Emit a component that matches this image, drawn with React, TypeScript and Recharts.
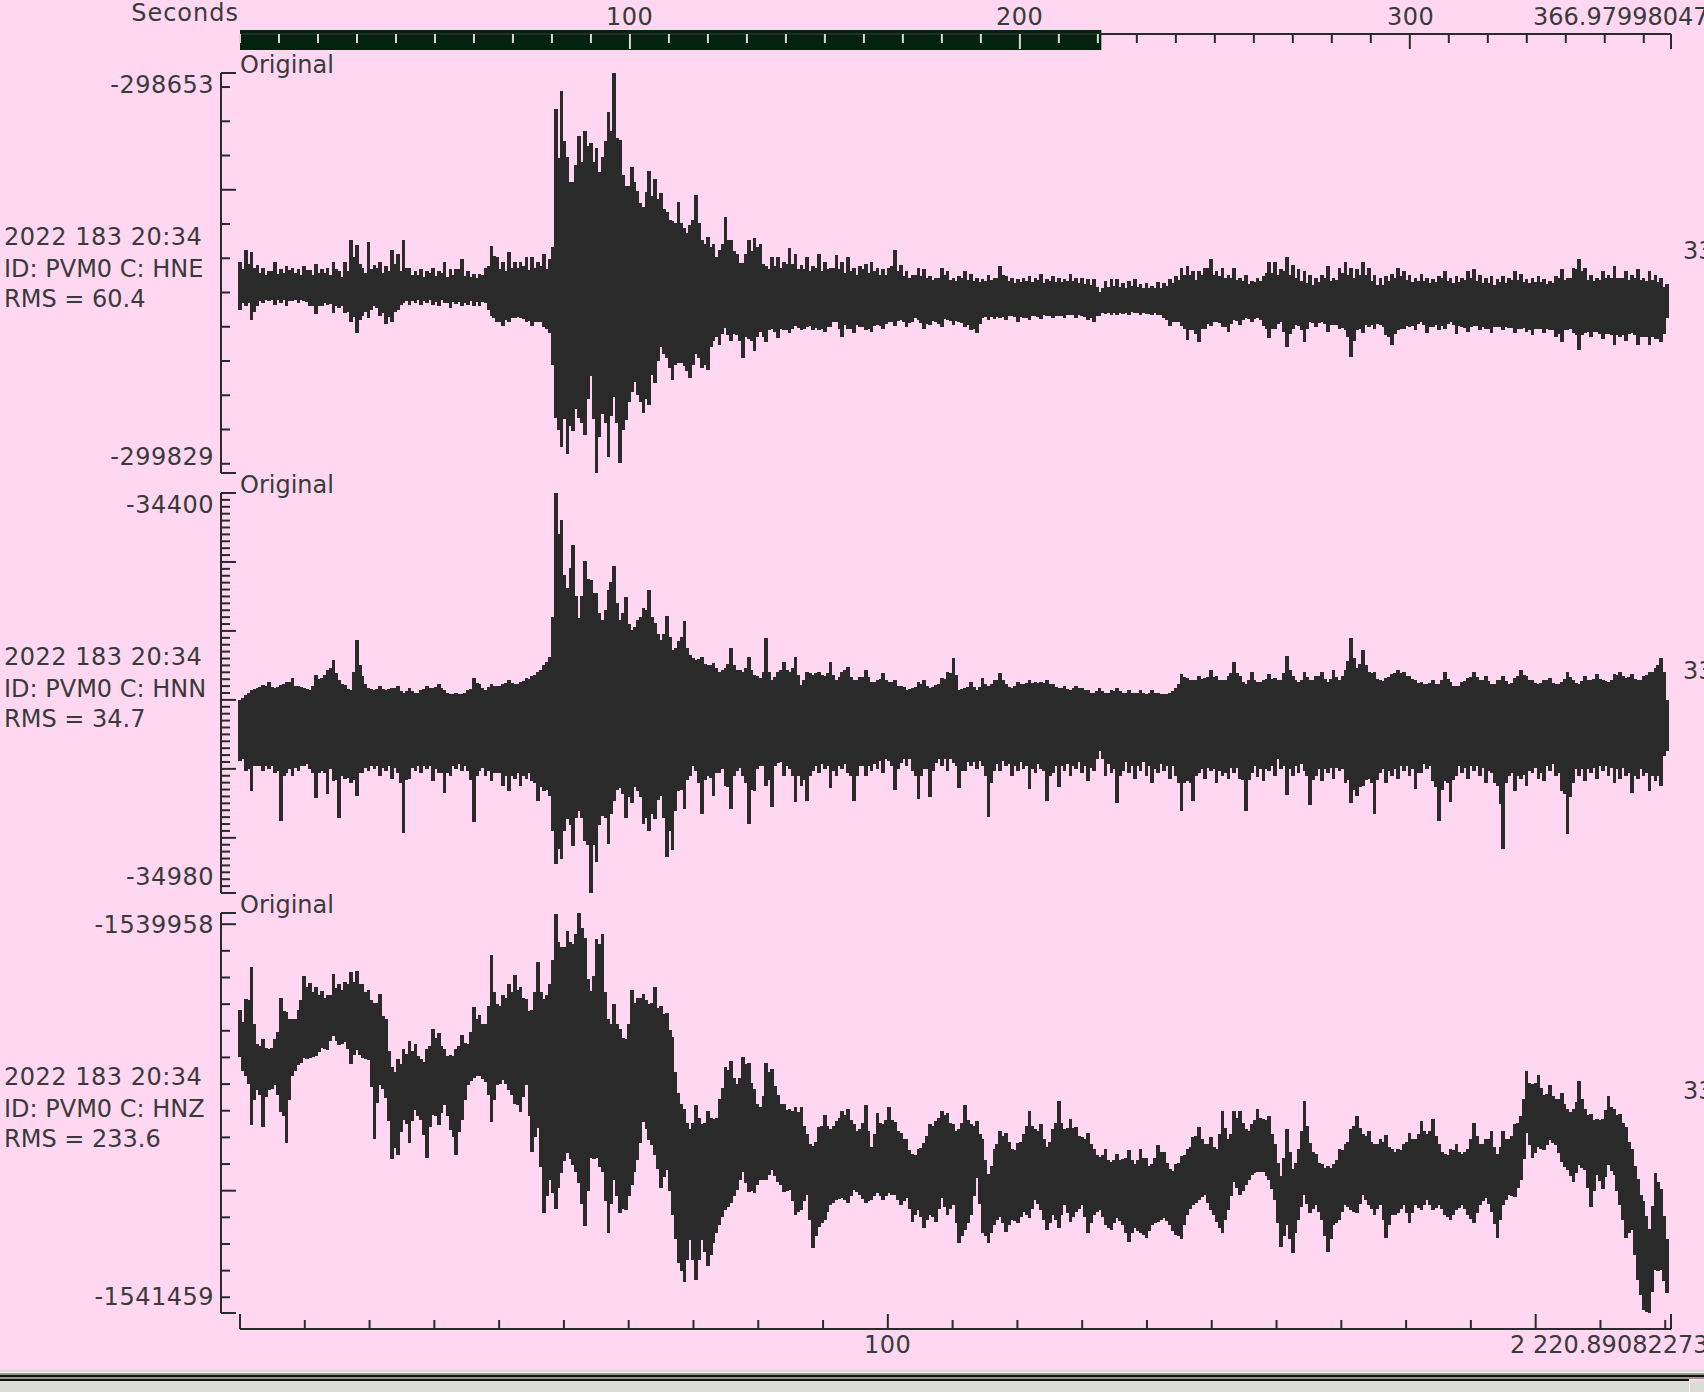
import { Bar, ComposedChart, ReferenceArea, ReferenceLine, XAxis, YAxis } from "recharts";

// seismogram columns: main list every 1.5 s, "Mid" lists fill the column in between
const STEP = 1.5;
const DURATION = 366.98;
const ZOOM_END = 220.89;
const LEAD = -4.87; // room between y axis and first sample
const INK = "#2a2a2a";
const PINK = "#ffd7f1";
const GREEN = "#02240e";
const PALE = "#d8d8d0";

const hneTop = -298659;
const hneBottom = -299827;
const hnnTop = -34400;
const hnnBottom = -34980;
const hnzTop = -1539958;
const hnzBottom = -1541459;

// all series values: counts below the trace top
const hneHigh = [
  552,517,523,561,570,581,552,575,564,570,
  575,564,578,558,575,570,552,581,552,488,
  505,570,494,561,552,564,517,531,488,570,
  581,575,581,570,581,552,575,575,546,581,
  587,587,570,508,540,552,523,552,552,540,
  540,552,531,546,108,55,248,321,184,172,
  207,219,248,114,0,196,330,277,347,394,
  289,312,353,406,435,377,453,444,359,488,
  479,502,517,423,488,531,555,488,482,502,
  566,540,540,552,511,531,561,540,564,529,
  552,570,534,552,540,570,564,558,552,570,
  575,570,517,561,581,590,570,575,593,599,
  570,581,599,593,581,587,599,604,590,599,
  564,593,599,604,599,593,599,587,604,593,
  599,604,587,599,599,604,604,640,610,604,
  604,616,610,604,619,616,622,613,616,604,
  593,570,564,581,581,570,546,581,570,590,
  570,599,590,610,599,593,552,552,575,540,
  561,575,581,590,599,590,566,599,570,552,
  570,575,552,570,590,599,593,587,570,581,
  590,599,587,599,604,593,581,599,593,599,
  581,575,590,599,593,604,593,599,581,587,
  604,599,593,602,610,593,575,599,570,546,
  570,590,599,581,590,566,599,581,590,575,
  599,581,590,599,619,
];
const hneLow = [
  692,680,721,680,669,663,675,669,680,663,
  669,663,680,701,680,675,698,686,698,727,
  759,709,715,680,709,730,727,692,669,675,
  669,675,669,675,680,669,686,672,680,675,
  680,680,669,709,727,736,727,715,715,727,
  736,727,739,759,1007,1092,1110,1043,1007,1057,
  882,1168,993,1121,946,1136,1013,931,940,990,
  969,905,800,832,896,844,853,888,818,861,
  867,780,794,742,780,765,832,774,809,756,
  785,745,771,750,759,736,750,739,750,748,
  756,739,727,768,745,759,739,750,756,733,
  745,727,736,721,739,727,721,745,733,727,
  739,721,733,727,739,750,759,715,721,718,
  715,721,709,727,715,721,709,718,709,715,
  709,715,706,715,709,721,727,709,701,706,
  704,701,704,698,704,701,706,704,715,736,
  727,736,777,750,785,745,736,727,739,756,
  721,733,715,727,715,736,771,745,727,800,
  745,736,785,727,739,727,756,733,745,750,
  829,750,759,739,745,733,765,794,750,745,
  739,750,727,759,739,750,745,727,762,739,
  756,736,750,745,759,739,750,742,759,745,
  756,765,745,759,750,768,785,750,759,806,
  759,768,756,774,762,794,768,780,759,794,
  768,794,774,785,715,
];
const hneMidHigh = [
  575,560,570,585,590,580,588,585,578,584,
  590,576,592,585,586,592,575,596,580,540,
  560,584,575,570,585,580,560,580,570,590,
  592,596,586,594,585,596,592,575,594,598,
  600,590,565,535,575,580,572,570,566,576,
  572,565,575,510,250,200,320,270,260,215,
  260,290,200,170,190,300,330,320,380,350,
  360,370,400,430,440,440,470,430,440,500,
  510,540,500,490,520,555,530,520,510,560,
  575,565,570,560,560,575,575,580,570,580,
  575,570,575,585,580,590,575,585,580,590,
  590,565,580,595,600,590,595,600,605,600,
  590,605,610,600,605,608,612,610,605,600,
  590,610,615,612,610,612,605,615,610,612,
  612,610,608,614,618,620,625,630,626,622,
  625,628,622,625,630,628,630,628,624,615,
  605,590,590,605,590,570,590,595,600,600,
  605,610,618,612,610,585,585,590,580,590,
  600,610,615,620,612,600,610,605,585,590,
  600,590,590,610,620,620,610,600,595,605,
  612,610,610,615,612,600,610,615,612,605,
  600,610,615,615,620,612,615,605,605,612,
  615,612,612,618,615,600,605,600,575,580,
  605,610,605,600,600,600,600,605,600,605,
  610,605,612,625,
];
const hneMidLow = [
  670,670,695,665,660,660,662,662,665,660,
  660,668,680,680,670,672,680,680,695,710,
  720,695,690,685,700,710,695,675,665,665,
  662,664,662,668,662,670,668,668,670,665,
  668,666,690,715,725,720,715,710,718,722,
  725,725,745,850,1040,1010,1030,980,1020,950,
  1010,1060,1020,1000,1020,1040,960,900,960,950,
  880,840,820,860,850,845,870,850,830,850,
  800,770,760,765,760,780,770,780,770,770,
  750,755,745,750,745,742,745,738,742,745,
  740,725,745,735,745,735,740,745,738,738,
  730,725,722,725,728,715,728,730,722,730,
  718,722,722,728,735,745,730,712,712,712,
  712,708,712,712,714,708,710,706,708,708,
  708,704,706,706,710,715,708,700,700,700,
  698,700,696,700,698,702,700,704,720,725,
  725,745,750,760,745,730,725,728,740,730,
  722,720,716,716,720,745,745,730,755,760,
  735,750,745,728,728,730,735,735,742,770,
  780,745,735,735,730,740,770,760,745,738,
  738,730,735,740,735,738,732,735,738,742,
  740,738,740,745,740,740,740,742,745,742,
  750,745,745,745,750,760,750,745,765,765,
  755,755,760,760,765,765,765,760,765,770,
  770,770,775,760,
];

const hnnHigh = [
  301,294,286,283,279,275,283,279,275,269,
  280,283,286,264,269,257,243,272,279,286,
  214,266,283,286,280,286,283,280,290,283,
  290,286,280,283,277,286,292,290,292,286,
  269,277,286,277,280,277,272,277,275,269,
  266,260,250,238,0,40,138,76,182,100,
  127,145,185,141,106,185,151,199,185,167,
  141,189,214,179,228,216,187,235,243,238,
  250,247,260,254,225,257,260,238,264,269,
  211,272,260,246,260,238,279,260,264,260,
  266,246,272,260,253,272,268,257,275,272,
  261,275,272,280,286,283,275,272,283,279,
  269,260,240,286,283,275,286,269,280,272,
  261,277,283,275,277,272,275,275,272,277,
  283,280,286,280,283,286,290,283,290,286,
  283,290,286,290,286,292,286,290,292,290,
  283,263,269,272,266,269,257,266,272,266,
  246,266,277,260,275,272,263,269,272,237,
  266,275,260,272,266,260,275,257,272,257,
  211,254,228,260,260,272,269,263,257,260,
  266,272,275,277,272,277,260,275,280,275,
  269,260,272,266,277,272,266,277,269,257,
  266,272,277,272,269,277,275,260,272,277,
  266,272,263,272,275,263,260,269,263,272,
  266,260,254,240,301,
];
const hnnLow = [
  388,402,431,395,402,399,405,475,405,410,
  402,395,399,441,402,435,417,470,414,420,
  438,405,402,399,410,402,414,405,492,414,
  402,405,399,417,405,434,410,399,402,402,
  477,402,410,417,405,424,431,414,424,414,
  417,446,431,438,537,530,472,511,460,504,
  580,535,467,508,446,427,470,449,431,479,
  489,472,438,527,517,431,457,410,402,465,
  410,438,405,424,457,402,410,479,431,395,
  424,454,391,410,399,447,424,446,402,405,
  399,427,410,399,405,446,395,410,402,399,
  405,388,430,391,395,402,443,399,440,391,
  395,402,391,427,402,395,399,395,469,402,
  402,395,410,402,399,428,405,399,446,405,
  426,402,410,399,405,417,402,373,410,405,
  449,402,405,414,402,410,420,405,402,414,
  410,460,417,446,405,414,402,420,410,414,
  405,414,460,405,411,417,402,410,399,437,
  410,405,402,451,410,417,405,414,402,420,
  449,438,424,414,465,405,420,410,414,402,
  410,428,405,399,417,475,417,447,410,405,
  414,402,410,420,405,424,515,410,431,414,
  424,405,414,417,402,410,431,494,420,410,
  417,405,414,402,410,420,414,410,434,414,
  410,431,417,424,373,
];
const hnnMidHigh = [
  298,290,285,282,280,282,282,278,275,280,
  282,285,280,270,265,255,262,278,285,260,
  250,278,285,285,285,285,284,288,288,288,
  290,285,283,282,284,290,292,292,290,285,
  276,284,282,280,280,276,276,278,274,270,
  264,258,246,180,60,120,110,150,150,125,
  145,175,170,130,160,175,190,195,180,170,
  180,205,205,210,225,210,225,240,242,248,
  250,255,258,248,250,258,255,258,266,260,
  260,268,258,258,255,265,272,262,262,264,
  262,265,268,258,268,272,268,268,275,270,
  272,275,280,282,285,282,278,280,282,278,
  270,262,265,285,282,282,282,278,278,272,
  272,282,280,278,276,276,276,276,278,282,
  284,285,284,284,286,290,288,288,290,288,
  288,290,290,290,290,290,290,292,292,288,
  278,268,272,272,270,268,268,272,272,262,
  262,275,272,272,275,270,270,272,262,258,
  272,272,268,272,266,270,270,268,266,245,
  240,248,250,262,270,274,268,262,262,266,
  270,276,278,276,278,272,270,280,280,274,
  268,268,272,274,278,272,274,276,266,264,
  272,276,276,272,276,278,270,268,276,274,
  272,270,270,274,272,264,266,268,270,272,
  265,260,250,260,
];
const hnnMidLow = [
  385,400,395,395,395,395,402,410,400,398,
  395,392,405,405,405,400,415,410,412,415,
  405,398,395,395,398,395,398,420,415,398,
  395,395,395,400,405,405,395,392,395,415,
  410,398,402,405,405,410,410,405,410,405,
  420,425,430,490,515,490,480,470,470,510,
  510,480,470,465,430,435,440,425,440,470,
  465,445,470,490,460,430,415,395,420,415,
  412,405,400,425,410,398,420,430,400,395,
  415,395,390,395,410,410,415,410,395,392,
  395,402,395,392,410,410,395,395,392,388,
  385,395,400,385,385,410,410,400,402,385,
  385,385,395,402,390,390,388,410,420,392,
  388,392,395,390,395,400,392,402,410,395,
  395,392,395,390,395,398,385,385,392,400,
  410,390,395,395,390,395,400,392,395,395,
  420,420,420,410,400,398,400,402,405,398,
  398,415,415,395,400,400,395,385,395,400,
  395,392,410,415,400,400,398,398,400,415,
  430,425,415,420,415,400,402,400,395,395,
  400,405,392,395,425,430,420,415,395,398,
  395,395,398,402,420,450,420,405,410,408,
  402,398,405,395,392,405,435,440,400,400,
  400,398,395,395,398,400,398,405,410,400,
  405,410,410,380,
];

const hnzHigh = [
  364,326,206,495,476,514,476,319,375,401,
  364,240,266,278,296,308,229,270,259,225,
  221,270,289,338,304,401,581,551,514,484,
  495,551,514,439,454,514,533,514,458,495,
  356,383,420,158,345,308,270,233,278,326,
  364,184,326,270,4,131,71,120,0,94,
  296,101,79,401,345,439,476,289,319,304,
  345,281,349,379,469,679,739,814,724,795,
  746,776,701,581,559,645,544,566,664,731,
  566,589,683,720,739,731,731,833,878,806,
  761,814,784,746,739,795,814,724,881,754,
  795,731,788,829,851,908,889,866,795,784,
  746,754,795,814,724,795,784,851,983,889,
  821,829,889,866,833,746,814,795,881,814,
  709,814,776,806,844,829,889,919,889,938,
  908,926,893,945,889,923,945,874,900,964,
  945,915,889,844,806,870,844,889,746,851,
  746,746,814,795,739,776,765,870,990,814,
  964,889,709,866,908,945,953,945,889,870,
  814,765,833,821,870,851,836,889,889,870,
  829,851,784,833,776,870,908,889,870,908,
  889,791,870,851,821,908,821,851,795,765,
  596,645,611,683,649,701,679,739,739,634,
  739,758,776,776,690,739,758,806,889,1001,
  1084,1189,979,1039,1226,
];
const hnzLow = [
  540,608,795,664,803,664,645,746,863,608,
  570,544,544,533,506,514,458,495,484,563,
  514,544,551,848,645,694,923,908,776,863,
  739,776,919,758,795,720,814,908,776,645,
  619,608,634,784,645,626,664,713,746,645,
  896,806,1125,1001,1110,975,900,945,1013,1174,
  919,919,971,1200,1001,1125,1114,1020,926,784,
  851,908,1031,964,1133,1313,1384,1226,1376,1226,
  1324,1238,1170,1114,1088,1039,971,1046,1050,1001,
  1001,964,1009,1046,1039,1133,1114,1058,1256,1178,
  1151,1095,1076,1069,1088,1039,1058,1088,1076,1050,
  1076,1050,1058,1095,1069,1159,1114,1181,1133,1159,
  1069,1133,1095,1238,1189,1133,994,1200,1238,1170,
  1140,1196,1151,1163,1121,1144,1076,1114,1189,1133,
  1181,1095,1159,1121,1095,1200,1133,1114,1170,1189,
  1144,1170,1234,1181,1200,1219,1170,1159,1144,1170,
  1208,1223,1133,1095,1076,1058,1114,1159,1200,1114,
  1009,1058,1020,983,971,971,1001,1076,1253,1170,
  1275,1151,1058,1125,1095,1151,1271,1170,1151,1095,
  1114,1125,1058,1095,1133,1095,1219,1133,1125,1095,
  1163,1095,1114,1076,1114,1095,1133,1151,1114,1095,
  1133,1163,1095,1069,1121,1219,1095,1058,1065,1001,
  825,919,878,889,851,870,934,964,1009,945,
  964,1103,983,1035,945,983,1095,1219,1189,1376,
  1489,1500,1339,1339,1425,
];
const hnzMidHigh = [
  410,330,420,500,510,510,450,370,400,400,
  330,280,300,310,320,310,285,290,270,260,
  270,300,330,340,390,520,600,570,530,520,
  540,560,500,470,500,540,540,500,490,450,
  400,420,350,300,350,320,300,290,320,370,
  300,300,310,180,110,130,110,80,60,250,
  240,120,300,420,420,470,420,340,320,330,
  340,360,380,440,600,720,790,790,770,790,
  770,770,660,590,620,620,570,640,720,690,
  600,650,720,740,745,750,800,870,860,800,
  800,800,770,760,780,820,790,820,830,790,
  780,780,820,850,890,910,885,840,800,770,
  760,790,820,790,780,800,830,930,950,870,
  840,860,890,860,800,800,820,850,860,790,
  790,810,810,840,850,870,910,910,930,930,
  930,920,930,930,920,950,920,900,940,970,
  940,910,880,840,850,870,880,830,810,830,
  770,790,820,780,770,780,830,940,920,900,
  940,820,800,900,940,960,960,930,890,860,
  800,810,840,860,870,860,880,900,890,860,
  850,830,820,820,840,900,910,890,900,900,
  850,840,870,850,880,880,850,840,790,700,
  640,640,660,680,690,700,720,750,710,700,
  760,780,780,740,730,760,790,860,950,1060,
  1140,1100,1010,1140,
];
const hnzMidLow = [
  590,640,700,680,690,660,680,760,700,590,
  560,545,540,520,510,480,480,490,510,530,
  530,545,650,710,660,780,880,820,790,780,
  760,830,800,760,750,760,840,820,700,630,
  610,620,680,700,640,640,680,720,690,760,
  840,950,1060,1050,1030,930,920,970,1090,1040,
  920,950,1080,1090,1060,1110,1060,970,860,810,
  870,960,990,1040,1220,1340,1300,1300,1300,1270,
  1280,1200,1140,1100,1060,1000,1010,1040,1020,1000,
  980,985,1020,1040,1080,1120,1080,1150,1210,1160,
  1120,1085,1070,1075,1060,1045,1070,1080,1060,1060,
  1060,1055,1075,1080,1110,1130,1140,1150,1140,1110,
  1100,1110,1160,1210,1160,1060,1090,1210,1200,1150,
  1160,1170,1155,1140,1130,1110,1090,1150,1160,1150,
  1130,1125,1140,1110,1140,1160,1120,1140,1180,1160,
  1155,1200,1200,1190,1205,1190,1160,1150,1155,1190,
  1210,1170,1110,1085,1065,1085,1130,1180,1150,1060,
  1030,1040,1000,975,970,985,1035,1160,1210,1220,
  1200,1100,1090,1110,1120,1210,1220,1160,1120,1100,
  1120,1090,1075,1110,1110,1150,1170,1130,1110,1125,
  1125,1105,1095,1095,1105,1110,1140,1130,1105,1110,
  1145,1125,1080,1090,1165,1150,1075,1060,1030,920,
  870,900,885,870,860,900,950,985,975,955,
  1030,1040,1005,990,965,1040,1150,1200,1280,1430,
  1495,1420,1340,1380,
];

const hneTicks = [-298659, -298700, -298800, -298900, -299000, -299100, -299200, -299300, -299400, -299500, -299600, -299700, -299800, -299827];
const hneMajors = [-298659, -299000, -299827];
const hnnTicks = [-34400, -34410, -34420, -34430, -34440, -34450, -34460, -34470, -34480, -34490, -34500, -34510, -34520, -34530, -34540, -34550, -34560, -34570, -34580, -34590, -34600, -34610, -34620, -34630, -34640, -34650, -34660, -34670, -34680, -34690, -34700, -34710, -34720, -34730, -34740, -34750, -34760, -34770, -34780, -34790, -34800, -34810, -34820, -34830, -34840, -34850, -34860, -34870, -34880, -34890, -34900, -34910, -34920, -34930, -34940, -34950, -34960, -34970, -34980];
const hnnMajors = [-34400, -34500, -34600, -34700, -34800, -34900, -34980];
const hnzTicks = [-1539958, -1540000, -1540100, -1540200, -1540300, -1540400, -1540500, -1540600, -1540700, -1540800, -1540900, -1541000, -1541100, -1541200, -1541300, -1541400, -1541459];
const hnzMajors = [-1539958, -1540000, -1541000, -1541459];

const secondsTicks = [0, 10, 20, 30, 40, 50, 60, 70, 80, 90, 100, 110, 120, 130, 140, 150, 160, 170, 180, 190, 200, 210, 220, 230, 240, 250, 260, 270, 280, 290, 300, 310, 320, 330, 340, 350, 360, 366.98];
const secondsMajors = [100, 200, 300, 366.98];
const zoomTicks = [0, 10, 20, 30, 40, 50, 60, 70, 80, 90, 100, 110, 120, 130, 140, 150, 160, 170, 180, 190, 200, 210, 220, 220.89];
const zoomMajors = [0, 100, 200, 220.89];

const buildRows = (top: number, high: number[], low: number[], midHigh: number[], midLow: number[]) =>
  high.flatMap((h, i) => {
    const rows = [{ t: i * STEP, spike: [top - low[i], top - h] }];
    if (i < midHigh.length) rows.push({ t: (i + 0.5) * STEP, spike: [top - midLow[i], top - midHigh[i]] });
    return rows;
  });

const font = "'DejaVu Sans', sans-serif";

const Txt = ({ x, y, right, ls, children }: { x?: number; y: number; right?: number; ls?: number; children: string }) => (
  <div
    style={{
      position: "absolute",
      left: x,
      right: right !== undefined ? 1704 - right : undefined,
      top: y - 15,
      height: 30,
      lineHeight: "30px",
      fontFamily: font,
      fontSize: 24,
      letterSpacing: ls ?? 0,
      color: "#3a3a3a",
      whiteSpace: "nowrap",
    }}
  >
    {children}
  </div>
);

const yTick = (majors: number[]) => (props: any) => {
  const { x, y, payload } = props;
  const len = majors.includes(payload.value) ? 15 : 9;
  return <line x1={x} x2={x + len} y1={y} y2={y} stroke={INK} strokeWidth={2} />;
};

const Trace = ({ top, y0, y1, rows, ticks, majors }: any) => (
  <div style={{ position: "absolute", left: 0, top: top - 5 }}>
    <ComposedChart
      width={1704}
      height={410}
      data={rows}
      margin={{ top: 5, bottom: 5, left: 220, right: 33 }}
    >
      <XAxis type="number" dataKey="t" domain={[LEAD, DURATION]} hide allowDataOverflow />
      <YAxis
        type="number"
        width={1}
        domain={[y1, y0]}
        ticks={ticks}
        interval={0}
        tickSize={0}
        tickMargin={0}
        tickLine={false}
        axisLine={{ stroke: INK, strokeWidth: 2 }}
        tick={yTick(majors)}
        allowDataOverflow
      />
      <Bar dataKey="spike" fill={INK} stroke={INK} strokeWidth={1} barSize={3} shapeRendering="crispEdges" isAnimationActive={false} />
    </ComposedChart>
  </div>
);

const topTick = (props: any) => {
  const { x, y, payload } = props;
  const inZoom = payload.value <= ZOOM_END;
  const len = secondsMajors.includes(payload.value) ? 15 : 9;
  return <line x1={x} x2={x} y1={y} y2={y + len} stroke={inZoom ? PALE : INK} strokeWidth={2} />;
};

const bottomTick = (props: any) => {
  const { x, y, payload } = props;
  const len = zoomMajors.includes(payload.value) ? 15 : 9;
  return <line x1={x} x2={x} y1={y} y2={y - len} stroke={INK} strokeWidth={2} />;
};

const hneRows = buildRows(hneTop, hneHigh, hneLow, hneMidHigh, hneMidLow);
const hnnRows = buildRows(hnnTop, hnnHigh, hnnLow, hnnMidHigh, hnnMidLow);
const hnzRows = buildRows(hnzTop, hnzHigh, hnzLow, hnzMidHigh, hnzMidLow);
const secondsRows = secondsTicks.map((t) => ({ t, base: 0 }));
const zoomRows = zoomTicks.map((t) => ({ t }));

const Rect = ({ y, h, c, w }: { y: number; h: number; c: string; w?: number }) => (
  <div style={{ position: "absolute", left: 0, top: y, width: w ?? 1704, height: h, background: c }} />
);

export default function App() {
  return (
    <div style={{ position: "absolute", left: 0, top: 0, width: 1704, height: 1392, background: PINK, overflow: "hidden" }}>
      {/* seconds axis with the zoom window */}
      <div style={{ position: "absolute", left: 0, top: 0 }}>
        <ComposedChart width={1704} height={60} data={secondsRows} margin={{ top: 0, bottom: 10, left: 240, right: 33 }}>
          <YAxis type="number" hide domain={[0, 16]} allowDataOverflow />
          <ReferenceArea x1={0} x2={ZOOM_END} y1={0} y2={20} fill={GREEN} fillOpacity={1} stroke="none" ifOverflow="visible" />
          <XAxis
            type="number"
            dataKey="t"
            orientation="top"
            height={34}
            domain={[0, DURATION]}
            ticks={secondsTicks}
            interval={0}
            tickSize={0}
            tickMargin={0}
            tickLine={false}
            axisLine={{ stroke: INK, strokeWidth: 2 }}
            tick={topTick}
            allowDataOverflow
          />
          <Bar dataKey="base" fill="none" isAnimationActive={false} />
          <ReferenceLine segment={[{ x: 0, y: 16 }, { x: ZOOM_END, y: 16 }]} stroke={PALE} strokeWidth={2} ifOverflow="visible" />
        </ComposedChart>
      </div>

      <Trace top={73} y0={hneTop} y1={hneBottom} rows={hneRows} ticks={hneTicks} majors={hneMajors} />
      <Trace top={493} y0={hnnTop} y1={hnnBottom} rows={hnnRows} ticks={hnnTicks} majors={hnnMajors} />
      <Trace top={913} y0={hnzTop} y1={hnzBottom} rows={hnzRows} ticks={hnzTicks} majors={hnzMajors} />

      {/* seconds axis of the zoomed view */}
      <div style={{ position: "absolute", left: 0, top: 1300 }}>
        <ComposedChart width={1704} height={40} data={zoomRows} margin={{ top: 0, bottom: 0, left: 240, right: 33 }}>
          <YAxis type="number" hide domain={[0, 1]} />
          <XAxis
            type="number"
            dataKey="t"
            height={11}
            domain={[0, ZOOM_END]}
            ticks={zoomTicks}
            interval={0}
            tickSize={0}
            tickMargin={0}
            tickLine={false}
            axisLine={{ stroke: INK, strokeWidth: 2 }}
            tick={bottomTick}
            allowDataOverflow
          />
        </ComposedChart>
      </div>

      <Txt right={239} y={13} ls={1}>Seconds</Txt>
      <Txt x={606} y={17} ls={0.5}>100</Txt>
      <Txt x={996} y={17} ls={0.5}>200</Txt>
      <Txt x={1387} y={17} ls={0.5}>300</Txt>
      <Txt x={1533} y={17}>366.97998047</Txt>

      <Txt x={240} y={65}>Original</Txt>
      <Txt x={240} y={485}>Original</Txt>
      <Txt x={240} y={905}>Original</Txt>

      <Txt right={214} y={85} ls={0.5}>-298653</Txt>
      <Txt right={214} y={457} ls={0.5}>-299829</Txt>
      <Txt right={214} y={505} ls={0.5}>-34400</Txt>
      <Txt right={214} y={877} ls={0.5}>-34980</Txt>
      <Txt right={214} y={925} ls={0.5}>-1539958</Txt>
      <Txt right={214} y={1297} ls={0.5}>-1541459</Txt>

      <Txt x={4} y={237} ls={0.5}>2022 183 20:34</Txt>
      <Txt x={4} y={269}>ID: PVM0 C: HNE</Txt>
      <Txt x={4} y={299}>RMS = 60.4</Txt>
      <Txt x={4} y={657} ls={0.5}>2022 183 20:34</Txt>
      <Txt x={4} y={689}>ID: PVM0 C: HNN</Txt>
      <Txt x={4} y={719}>RMS = 34.7</Txt>
      <Txt x={4} y={1077} ls={0.5}>2022 183 20:34</Txt>
      <Txt x={4} y={1109}>ID: PVM0 C: HNZ</Txt>
      <Txt x={4} y={1139}>RMS = 233.6</Txt>

      <Txt x={1683} y={251}>33</Txt>
      <Txt x={1683} y={671}>33</Txt>
      <Txt x={1683} y={1091}>33</Txt>

      <Txt x={864} y={1345} ls={0.5}>100</Txt>
      <Txt x={1510} y={1345}>2 220.89082273</Txt>

      {/* window frame under the plot */}
      <Rect y={1370} h={2} c="#d8d8d0" />
      <Rect y={1372} h={1} c="#f8f8f4" />
      <Rect y={1373} h={2} c="#9a968c" />
      <Rect y={1375} h={2} c="#111111" />
      <Rect y={1377} h={2} c="#9a968c" />
      <Rect y={1379} h={2} c="#111111" w={1690} />
      <Rect y={1381} h={11} c="#dcdcd6" />
      <div style={{ position: "absolute", left: 1689, top: 1379, width: 1, height: 13, background: "#ffffff" }} />
    </div>
  );
}
